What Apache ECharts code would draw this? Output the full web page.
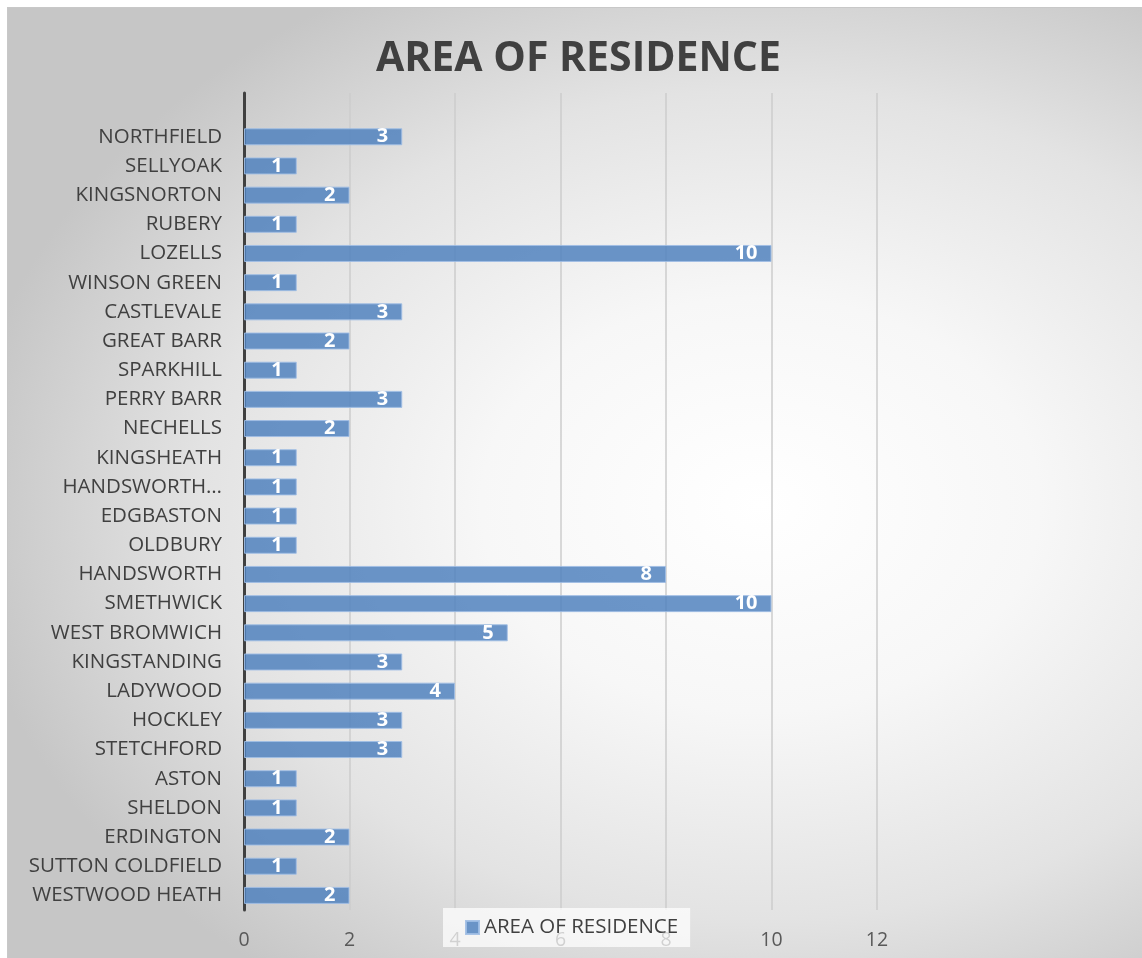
<!DOCTYPE html>
<html>
<head>
<meta charset="utf-8">
<script src="https://cdn.jsdelivr.net/npm/echarts@6/dist/echarts.min.js"></script>
<style>
  html, body { margin: 0; padding: 0; background: #ffffff; }
  #frame {
    position: absolute; left: 7px; top: 7px; width: 1140px; height: 955px;
    border-left: 1px solid #c8c8c8; border-top: 1px solid #c8c8c8;
    background: radial-gradient(ellipse 70% 62% at 66% 52%, #ffffff 0%, #f7f7f7 35%, #e3e3e3 70%, #c6c6c6 100%);
  }
  #chart { position: absolute; left: 0; top: 0; width: 1142px; height: 958px; }
</style>
</head>
<body>
<div id="frame"></div>
<div id="chart"></div>
<script>
// Areas listed from the bottom of the axis to the top; the last slot is left empty.
const areas = [
  'WESTWOOD HEATH', 'SUTTON COLDFIELD', 'ERDINGTON', 'SHELDON', 'ASTON',
  'STETCHFORD', 'HOCKLEY', 'LADYWOOD', 'KINGSTANDING', 'WEST BROMWICH',
  'SMETHWICK', 'HANDSWORTH', 'OLDBURY', 'EDGBASTON', 'HANDSWORTH…',
  'KINGSHEATH', 'NECHELLS', 'PERRY BARR', 'SPARKHILL', 'GREAT BARR',
  'CASTLEVALE', 'WINSON GREEN', 'LOZELLS', 'RUBERY', 'KINGSNORTON',
  'SELLYOAK', 'NORTHFIELD', ''
];
const counts = [
  2, 1, 2, 1, 1,
  3, 3, 4, 3, 5,
  10, 8, 1, 1, 1,
  1, 2, 3, 1, 2,
  3, 1, 10, 1, 2,
  1, 3, null
];
const seriesName = 'AREA OF RESIDENCE';
const xTicks = { min: 0, max: 12, interval: 2 };

const FONT = '"Open Sans", "Noto Sans", sans-serif';
const chart = echarts.init(document.getElementById('chart'));
chart.setOption({
  backgroundColor: 'transparent',
  animation: false,
  title: {
    text: 'AREA OF RESIDENCE',
    left: 371,
    top: 34,
    textStyle: { fontFamily: FONT, fontWeight: 'bold', fontSize: 41, color: '#404040' }
  },
  legend: {
    data: [seriesName],
    left: 443,
    top: 908,
    backgroundColor: 'rgba(255,255,255,0.72)',
    padding: [9, 12, 9, 22],
    icon: 'rect',
    itemWidth: 13,
    itemHeight: 13,
    itemGap: 7,
    textStyle: { fontFamily: FONT, fontSize: 20.5, color: '#404040' }
  },
  grid: { left: 244, right: 265, top: 93, bottom: 48, containLabel: false },
  xAxis: {
    type: 'value',
    min: xTicks.min, max: xTicks.max, interval: xTicks.interval,
    axisLine: { show: false },
    axisTick: { show: false },
    splitLine: { show: true, lineStyle: { color: '#cccccc', width: 1.5 } },
    axisLabel: { fontFamily: FONT, fontSize: 19.5, color: '#595959', margin: 20 }
  },
  yAxis: {
    type: 'category',
    data: areas,
    axisLine: { show: true, lineStyle: { color: '#404040', width: 3 } },
    axisTick: { show: false },
    axisLabel: { fontFamily: FONT, fontSize: 20.5, color: '#404040', margin: 22, interval: 0 }
  },
  series: [{
    name: seriesName,
    type: 'bar',
    data: counts,
    barWidth: 17,
    itemStyle: { color: 'rgba(79,129,189,0.84)', borderColor: 'rgba(160,190,228,0.9)', borderWidth: 1 },
    label: {
      show: true,
      position: 'insideRight',
      distance: 14,
      fontFamily: FONT,
      fontWeight: 'bold',
      fontSize: 20,
      color: '#ffffff'
    }
  }]
});
</script>
</body>
</html>
